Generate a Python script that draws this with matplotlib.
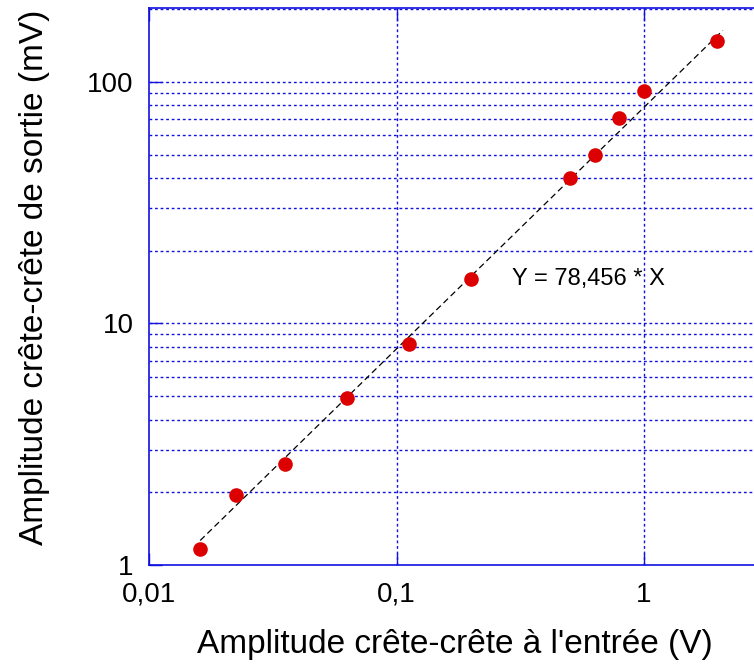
import matplotlib
matplotlib.use("Agg")
import matplotlib.pyplot as plt
from matplotlib.ticker import FixedLocator, FixedFormatter, NullFormatter
import numpy as np

plt.rcParams['font.family'] = ['Liberation Sans', 'DejaVu Sans']

# Measured peak-to-peak amplitudes
v_in = [0.0161, 0.0225, 0.0355, 0.063, 0.1125, 0.200, 0.502, 0.634, 0.793, 1.0, 1.97]   # V
v_out = [1.16, 1.95, 2.61, 4.90, 8.19, 15.3, 40.1, 49.9, 71.0, 91.8, 147.6]            # mV

# Linear fit through the origin
gain = 78.456
fit_x = [0.0161, 2.08]

x_ticks = [0.01, 0.1, 1]
x_tick_labels = ['0,01', '0,1', '1']
y_ticks = [1, 10, 100]
y_tick_labels = ['1', '10', '100']

W, H = 754, 666
fig = plt.figure(figsize=(W / 100, H / 100), dpi=100)
ax = fig.add_axes([149 / W, (H - 565) / H, (W - 149) / W, (565 - 8) / H])

ax.set_xscale('log')
ax.set_yscale('log')
ax.set_xlim(0.01, 2.78)
ax.set_ylim(1, 202)

blue = '#1010e0'
dotted = (0, (2, 2))

# grid: vertical at decades, horizontal at every 1-9 step
for xv in [0.1, 1]:
    ax.axvline(xv, color=blue, lw=1, ls=dotted, zorder=1)
for dec in [1, 10, 100]:
    for m in range(1, 10):
        yv = dec * m
        if 1 < yv < 202:
            ax.axhline(yv, color=blue, lw=1, ls=dotted, zorder=1)

fx = np.array(fit_x)
ax.plot(fx, gain * fx, color='black', lw=0.9, ls=(0, (5, 3)), zorder=2)
ax.plot(v_in, v_out, 'o', color='#dd0000', markersize=10.5, markeredgewidth=0, zorder=3)

ax.text(0.293, 15.3, 'Y = 78,456 * X', fontsize=17, ha='left', va='center', color='black')

ax.xaxis.set_major_locator(FixedLocator(x_ticks))
ax.xaxis.set_major_formatter(FixedFormatter(x_tick_labels))
ax.yaxis.set_major_locator(FixedLocator(y_ticks))
ax.yaxis.set_major_formatter(FixedFormatter(y_tick_labels))
ax.xaxis.set_minor_formatter(NullFormatter())
ax.yaxis.set_minor_formatter(NullFormatter())
ax.tick_params(which='minor', length=0)
ax.tick_params(axis='x', which='major', direction='in', length=9, width=1, color=blue,
               top=True, bottom=True, labelsize=20, pad=12)
ax.tick_params(axis='y', which='major', direction='in', length=9, width=1, color=blue,
               left=True, right=False, labelsize=20, pad=11)

for side in ['left', 'top', 'bottom']:
    ax.spines[side].set_color(blue)
    ax.spines[side].set_linewidth(1.2)
ax.spines['right'].set_visible(False)

fig.text(455 / W, 1 - 645 / H, "Amplitude crête-crête à l'entrée (V)", fontsize=24,
         ha='center', va='center')
fig.text(35 / W, 1 - 277 / H, 'Amplitude crête-crête de sortie (mV)', fontsize=24,
         ha='center', va='center', rotation=90)

fig.savefig('out.png', dpi=100)
